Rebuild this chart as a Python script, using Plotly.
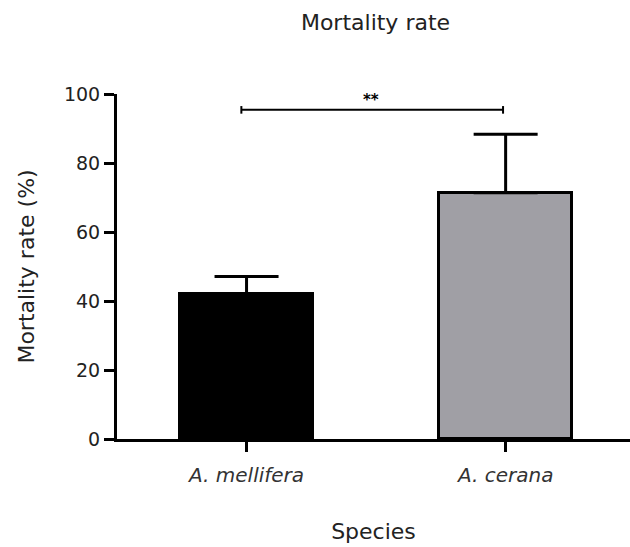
import plotly.graph_objects as go

# Data
species = ["A. mellifera", "A. cerana"]
mortality_mean = [42.0, 71.4]
mortality_err = [5.1, 16.9]
bar_colors = ["#000000", "#a09fa5"]

# Significance bracket (data coordinates)
sig_x = [-0.02, 0.99]
sig_y = 95.4
sig_label = "**"

FONT = "DejaVu Sans"
TXT = "#222222"

fig = go.Figure()
fig.add_trace(go.Bar(
    x=[0, 1],
    y=mortality_mean,
    width=0.513,
    marker=dict(color=bar_colors, line=dict(color="black", width=3)),
    error_y=dict(type="data", array=mortality_err, arrayminus=[0, 0],
                 symmetric=False, color="black", thickness=3, width=32),
    showlegend=False,
))

# bracket
fig.add_shape(type="line", xref="x", yref="y", x0=sig_x[0], x1=sig_x[1],
              y0=sig_y, y1=sig_y, line=dict(color="black", width=2))
for xx in sig_x:
    fig.add_shape(type="line", xref="x", yref="y", x0=xx, x1=xx,
                  y0=sig_y - 1.1, y1=sig_y + 1.1, line=dict(color="black", width=2))
fig.add_annotation(x=(sig_x[0] + sig_x[1]) / 2 - 0.005, y=sig_y + 2.8, xref="x", yref="y",
                   text="<b>" + sig_label + "</b>", showarrow=False,
                   font=dict(family=FONT, size=15, color="black"))

fig.update_layout(
    width=630, height=547,
    margin=dict(l=117, r=0, t=94, b=108),
    plot_bgcolor="white", paper_bgcolor="white",
    font=dict(family=FONT, color=TXT, size=19),
    title=dict(text="Mortality rate", x=375.5 / 630, xanchor="center",
               y=1 - 22 / 547, yanchor="middle",
               font=dict(family=FONT, size=22, color=TXT)),
    bargap=0,
)
fig.update_xaxes(
    range=[-0.5, 1.48],
    tickvals=[0, 1], ticktext=species,
    tickfont=dict(family=FONT, size=20, color="#333333", style="italic"),
    ticklabelstandoff=6,
    showline=True, linecolor="black", linewidth=3,
    ticks="outside", ticklen=10, tickwidth=3, tickcolor="black",
    showgrid=False, zeroline=False,
    title=dict(text="Species", font=dict(family=FONT, size=22, color=TXT), standoff=38),
)
fig.update_yaxes(
    range=[0, 100],
    tickvals=[0, 20, 40, 60, 80, 100],
    tickfont=dict(family=FONT, size=19, color=TXT),
    showline=True, linecolor="black", linewidth=3,
    ticks="outside", ticklen=10, tickwidth=3, tickcolor="black",
    showgrid=False, zeroline=False,
    title=dict(text="Mortality rate (%)", font=dict(family=FONT, size=22, color=TXT), standoff=24),
)

fig.write_html("out.html", config={"displayModeBar": False},
               post_script="document.body.style.margin='0';")
